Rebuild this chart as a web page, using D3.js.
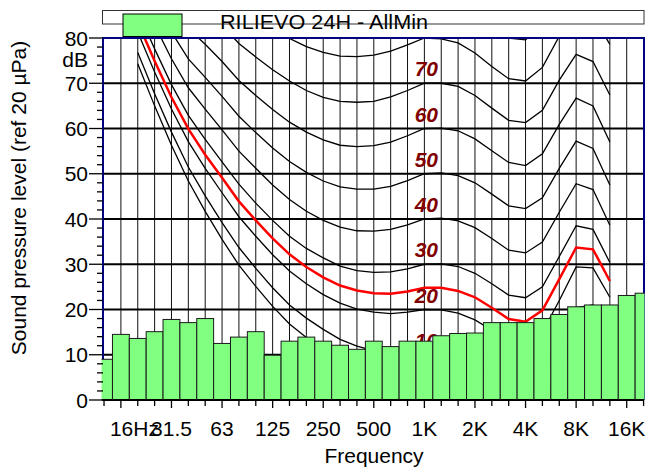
<!DOCTYPE html>
<html><head><meta charset="utf-8">
<script src="https://cdn.jsdelivr.net/npm/d3@7"></script>
<style>body{margin:0;background:#fff}svg{display:block}text{font-family:"Liberation Sans",Arial,sans-serif}</style>
</head><body><svg id="c" width="648" height="470"></svg>
<script>
// third-octave bands (Hz)
const bands = ["12.5","16","20","25","31.5","40","50","63","80","100","125","160","200","250","315","400","500","630","800","1000","1250","1600","2000","2500","3150","4000","5000","6300","8000","10000","12500","16000","20000"];
// measured spectrum (dB) per band
const levels = [9.0,14.5,13.6,15.1,17.8,17.1,18.0,12.5,13.9,15.1,9.9,13.0,13.9,13.0,12.1,11.2,13.0,11.8,13.0,13.0,14.2,14.7,14.8,17.1,17.1,17.1,18.0,18.9,20.6,21.0,21.0,23.1,23.6];
// equal-loudness contours (dB), bands 20 Hz .. 12.5 kHz
const contourBands = bands.slice(2, 31);
const threshold = [74.3,65.0,56.3,48.4,41.7,35.5,29.8,25.1,20.7,16.8,13.8,11.2,8.9,7.2,6.0,5.0,4.4,4.2,3.7,2.6,1.0,-1.2,-3.6,-3.9,-1.1,6.6,15.3,16.4,11.6];
const phon10 = [76.8,67.7,59.2,51.5,45.1,39.2,33.7,29.1,24.8,21.0,18.1,15.6,13.4,11.9,10.9,10.1,9.9,10,9.7,8.7,7.2,5.0,2.6,2.2,4.8,12.2,20.4,21.0,15.5];
const phon20 = [81.3,72.5,64.3,57.1,51.2,45.8,40.5,36.2,32.1,28.5,25.7,23.3,21.4,20.1,19.4,19.1,19.4,20,19.9,19.2,17.7,15.4,13.0,12.5,15.0,22.0,29.4,29.2,22.7];
const phon30 = [86.0,77.6,69.7,62.9,57.6,52.6,47.7,43.5,39.7,36.2,33.5,31.4,29.6,28.6,28.2,28.3,29.0,30,30.1,29.5,28.0,25.7,23.2,22.6,25.0,31.7,38.5,37.7,30.4];
const phon40 = [91.0,82.9,75.4,69.0,64.3,59.7,55.0,51.2,47.5,44.3,41.7,39.7,38.2,37.4,37.3,37.7,38.7,40,40.2,39.6,38.1,35.7,33.1,32.5,34.9,41.5,47.8,46.5,38.6];
const phon50 = [96.2,88.5,81.3,75.4,71.3,67.1,62.7,59.1,55.7,52.7,50.3,48.4,47.1,46.6,46.6,47.2,48.5,50,50.2,49.6,48.0,45.5,42.9,42.3,44.7,51.2,57.2,55.6,47.5];
const phon60 = [101.7,94.4,87.6,82.1,78.6,74.8,70.6,67.3,64.2,61.4,59.2,57.5,56.3,56.0,56.2,57.0,58.4,60,60.1,59.5,57.7,55.1,52.5,51.8,54.4,60.9,66.7,65.0,57.0];
const phon70 = [107.6,100.7,94.3,89.2,86.4,82.8,78.8,75.8,73.0,70.5,68.4,66.9,66.0,65.8,66.0,67.0,68.4,70,70.0,69.3,67.3,64.5,61.8,61.3,64.0,70.7,76.4,74.8,67.4];
const phon80 = [113.7,107.3,101.3,96.6,94.6,91.1,87.4,84.7,82.2,79.9,78.1,76.8,76.0,75.9,76.2,77.1,78.5,80,79.8,78.9,76.7,73.7,71.0,70.5,73.5,80.4,86.3,84.9,78.6];
const phon90 = [120.3,114.4,108.7,104.4,103.2,99.8,96.3,94.0,91.8,89.8,88.1,87.1,86.4,86.4,86.6,87.5,88.7,90,89.5,88.4,85.9,82.7,80.0,79.6,82.9,90.1,96.4,95.5,90.9];
// loudness contour of the measured spectrum (red)
const loudness = [83.5,74.9,66.9,59.9,54.2,49.1,43.9,39.7,35.7,32.2,29.4,27.1,25.3,24.2,23.6,23.5,24.0,24.8,24.8,24.1,22.7,20.4,17.9,17.3,19.8,26.7,33.7,33.3,26.3];
const phonLabels = [10,20,30,40,50,60,70];
const xTickBands = ["16","31.5","63","125","250","500","1000","2000","4000","8000","16000"];
const xTickText = ["16Hz","31.5","63","125","250","500","1K","2K","4K","8K","16K"];
const yMajor = [0,10,20,30,40,50,60,70,80];
const yMinor = d3.range(0, 81, 2);
const legendText = "RILIEVO 24H - AllMin";

const L = 103, R = 644, T = 38, B = 400;
const svg = d3.select("#c");
const x = d3.scaleBand().domain(bands).range([95.6, 652]).padding(0);
const cx = b => x(b) + x.bandwidth() / 2;
const y = d3.scaleLinear().domain([0, 80]).range([B, T]);

const defs = svg.append("defs");
defs.append("clipPath").attr("id", "plot").append("rect")
  .attr("x", L).attr("y", T).attr("width", R - L).attr("height", B - T);
defs.append("clipPath").attr("id", "bars").append("rect")
  .attr("x", L - 1.5).attr("y", T).attr("width", R - L + 2).attr("height", B - T);

// vertical grid
svg.append("g").selectAll("line").data(bands.slice(1, 32)).join("line")
  .attr("x1", d => cx(d)).attr("x2", d => cx(d)).attr("y1", T).attr("y2", B)
  .attr("stroke", "#111").attr("stroke-width", 1);
// horizontal grid
svg.append("g").selectAll("line").data(yMajor.slice(1, 8)).join("line")
  .attr("x1", L).attr("x2", R).attr("y1", d => y(d)).attr("y2", d => y(d))
  .attr("stroke", "#000").attr("stroke-width", 2);

// contours
const line = d3.line().x((d, i) => cx(contourBands[i])).y(d => y(d));
const cg = svg.append("g").attr("clip-path", "url(#plot)");
[threshold, phon10, phon20, phon30, phon40, phon50, phon60, phon70, phon80, phon90].forEach(arr => {
  cg.append("path").attr("d", line(arr)).attr("fill", "none").attr("stroke", "#000").attr("stroke-width", 1.3);
});
cg.append("path").attr("d", line(loudness)).attr("fill", "none").attr("stroke", "#ff0000").attr("stroke-width", 2.5);

// phon labels
svg.append("g").selectAll("text").data(phonLabels).join("text")
  .attr("x", cx("1000") + 2).attr("y", d => y(d) - 7)
  .attr("text-anchor", "middle").attr("font-size", 21).attr("font-weight", "bold").attr("font-style", "italic")
  .attr("fill", "#800000").text(d => d);

// frame
svg.append("path").attr("d", `M${L},${B}V${T}H${R}V${B}`).attr("fill", "none")
  .attr("stroke", "#000080").attr("stroke-width", 2);

// bars
svg.append("g").attr("clip-path", "url(#bars)").selectAll("rect").data(levels).join("rect")
  .attr("x", (d, i) => x(bands[i])).attr("width", x.bandwidth())
  .attr("y", d => y(d)).attr("height", d => B - y(d))
  .attr("fill", "#80ff80").attr("stroke", "#1a1a1a").attr("stroke-width", 1);

// x axis
svg.append("line").attr("x1", L - 1).attr("x2", R).attr("y1", B).attr("y2", B).attr("stroke", "#000").attr("stroke-width", 2);
svg.append("g").selectAll("line").data(bands).join("line")
  .attr("x1", d => cx(d)).attr("x2", d => cx(d)).attr("y1", B).attr("y2", d => xTickBands.includes(d) ? B + 8 : B + 6)
  .attr("stroke", "#000").attr("stroke-width", 1.3);
svg.append("g").selectAll("text").data(xTickBands).join("text")
  .attr("x", d => cx(d)).attr("y", 436)
  .attr("text-anchor", (d, i) => i === 0 ? "start" : "middle")
  .attr("dx", (d, i) => i === 0 ? -11 : 0)
  .attr("font-size", 21).attr("fill", "#000").text((d, i) => xTickText[i]);
svg.append("text").attr("x", 374).attr("y", 463).attr("text-anchor", "middle").attr("font-size", 21).text("Frequency");

// y axis
svg.append("g").selectAll("line").data(yMinor).join("line")
  .attr("x1", d => d % 10 === 0 ? 89 : 97).attr("x2", L).attr("y1", d => y(d)).attr("y2", d => y(d))
  .attr("stroke", "#000").attr("stroke-width", 1.3);
svg.append("g").selectAll("text").data(yMajor).join("text")
  .attr("x", 88).attr("y", d => y(d) + 7.5).attr("text-anchor", "end").attr("font-size", 21).text(d => d);
svg.append("text").attr("x", 88).attr("y", 67).attr("text-anchor", "end").attr("font-size", 21).text("dB");
svg.append("text").attr("transform", "translate(26,198) rotate(-90)").attr("text-anchor", "middle")
  .attr("font-size", 21).text("Sound pressure level (ref 20 µPa)");

// legend
svg.append("rect").attr("x", 102.5).attr("y", 10.5).attr("width", 541.5).attr("height", 13.5)
  .attr("fill", "#fff").attr("stroke", "#333").attr("stroke-width", 1);
svg.append("rect").attr("x", 123).attr("y", 14).attr("width", 59).attr("height", 22.5)
  .attr("fill", "#80ff80").attr("stroke", "#000").attr("stroke-width", 1);
svg.append("text").attr("x", 220).attr("y", 29).attr("font-size", 21)
  .attr("textLength", 208).attr("lengthAdjust", "spacingAndGlyphs").text(legendText);
</script></body></html>
